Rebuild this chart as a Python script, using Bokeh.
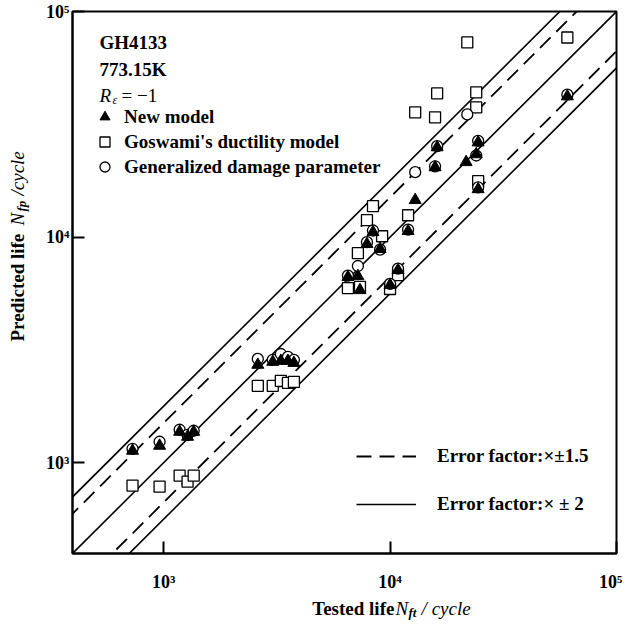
import math
from bokeh.plotting import figure
from bokeh.layouts import row, column
from bokeh.models import Label, Legend, LegendItem, FixedTicker
from bokeh.embed import file_html
from bokeh.resources import INLINE

# ---- data ----
tested_new = [729, 960, 1177, 1276, 1358, 2606, 3034, 3294, 3540, 3762,
              6516, 7211, 7365, 7907, 8407, 9036, 10000, 10843, 12012, 12912,
              15805, 16145, 21677, 24021, 24490, 24490, 60670]
pred_new = [1130, 1189, 1371, 1303, 1371, 2716, 2800, 2827, 2827, 2768,
            6653, 6714, 5821, 9314, 10520, 8853, 6139, 7145, 10637, 14593,
            20397, 25004, 21494, 23286, 26290, 16308, 42070]

tested_gos = [729, 960, 1177, 1276, 1358, 2606, 3034, 3294, 3540, 3762,
              6516, 7211, 7365, 7907, 8407, 9224, 10000, 10843, 12012, 12912,
              15805, 16145, 21928, 24021, 24021, 24490, 60670]
pred_gos = [791, 783, 876, 824, 876, 2193, 2193, 2307, 2258, 2281,
            5943, 8492, 6012, 11885, 13711, 10090, 5890, 6791, 12503, 35727,
            33963, 43337, 72946, 43830, 37573, 17706, 76700]

tested_gdp = [729, 960, 1177, 1276, 1358, 2606, 3034, 3294, 3540, 3762,
              6516, 7211, 7907, 8407, 9036, 10000, 10843, 12012, 12912,
              15805, 16145, 21928, 24021, 24490, 24490, 60670]
pred_gdp = [1153, 1239, 1400, 1330, 1386, 2884, 2857, 3034, 2944, 2857,
            6750, 7447, 9500, 10700, 8800, 6200, 7250, 10800, 19400,
            20600, 25300, 34994, 23000, 26700, 16600, 42800]

band_dashed = 1.5     # dashed band factor as drawn
band_solid = 1.78     # solid band factor as drawn
line_x = [100, 1000000]
ticks = [1000, 10000, 100000]
tick_labels = {1000: "10³", 10000: "10⁴", 100000: "10⁵"}

FONT = "Liberation Serif"
XMIN, XMAX = 396, 100000
YMIN, YMAX = 396, 100000

LW = 40          # width of the left title strip
MW = 582         # width of the main plot canvas
MH = 594         # height of the main plot canvas
BH = 27          # height of the bottom title strip

# ---------------- main plot ----------------
p = figure(x_axis_type="log", y_axis_type="log",
           x_range=(XMIN, XMAX), y_range=(YMIN, YMAX),
           width=MW, height=MH,
           min_border_left=32, min_border_right=MW - 32 - 544,
           min_border_top=11, min_border_bottom=MH - 11 - 543,
           output_backend="svg", toolbar_location=None)
p.grid.visible = False
p.outline_line_color = "black"
p.outline_line_width = 2
p.background_fill_color = "white"
p.border_fill_color = "white"
for ax in (p.xaxis[0], p.yaxis[0]):
    ax.ticker = FixedTicker(ticks=ticks)
    ax.major_label_overrides = tick_labels
    ax.axis_line_width = 2
    ax.major_tick_in = 12
    ax.major_tick_out = 0
    ax.major_tick_line_width = 2
    ax.minor_tick_line_color = None
    ax.major_label_text_font = FONT
    ax.major_label_text_font_size = "18px"
    ax.major_label_text_font_style = "bold"
    ax.major_label_text_color = "black"
p.xaxis[0].major_label_standoff = 18
p.yaxis[0].major_label_standoff = 3

# error band lines
solid = p.multi_line(xs=[line_x] * 3,
                     ys=[[v / band_solid for v in line_x], list(line_x),
                         [v * band_solid for v in line_x]],
                     line_color="black", line_width=1.6)
dashed = p.multi_line(xs=[line_x] * 2,
                      ys=[[v / band_dashed for v in line_x],
                          [v * band_dashed for v in line_x]],
                      line_color="black", line_width=1.8, line_dash="15 8")

sq = p.scatter(tested_gos, pred_gos, marker="square", size=11,
               line_color="black", fill_color="white", line_width=1.3)
ci = p.scatter(tested_gdp, pred_gdp, marker="circle", size=11,
               line_color="black", fill_color="white", line_width=1.3)
tr = p.scatter(tested_new, pred_new, marker="triangle", size=12,
               line_color="black", fill_color="black")


def make_label(text, x, y, size, style, angle=0.0, align="left", **kw):
    return Label(text=text, text_font=FONT, text_font_size=f"{size}px",
                 text_font_style=style, text_baseline="alphabetic",
                 text_align=align, angle=angle, text_color="black",
                 x=x, y=y, **kw)


def lab_main(text, px, py, size, style="bold"):
    # reference page pixel -> offset from the frame's bottom-left corner
    p.add_layout(make_label(text, XMIN, YMIN, size, style,
                            x_offset=px - 73, y_offset=555 - py))


lab_main("GH4133", 100, 44, 19)
lab_main("773.15K", 100, 71, 19)
lab_main("R", 100, 97, 19, "italic")
lab_main("ε", 113, 101, 12, "italic")
lab_main("= −1", 122, 97, 19, "normal")

leg1 = Legend(items=[LegendItem(label="New model", renderers=[tr]),
                     LegendItem(label="Goswami's ductility model", renderers=[sq]),
                     LegendItem(label="Generalized damage parameter", renderers=[ci])],
              location=(20, 374), spacing=0,
              glyph_width=25, glyph_height=25, label_height=25,
              label_standoff=7, padding=0,
              label_text_font=FONT, label_text_font_size="19px",
              label_text_font_style="bold", label_text_color="black",
              border_line_color=None, background_fill_alpha=0)
leg2 = Legend(items=[LegendItem(label="Error factor:×±1.5", renderers=[dashed]),
                     LegendItem(label="Error factor:× ± 2", renderers=[solid])],
              location=(284, 38), spacing=26,
              glyph_width=60, glyph_height=20, label_height=20,
              label_standoff=21, padding=0,
              label_text_font=FONT, label_text_font_size="19px",
              label_text_font_style="bold", label_text_color="black",
              border_line_color=None, background_fill_alpha=0)
p.add_layout(leg1)
p.add_layout(leg2)


def strip(w, h):
    f = figure(width=w, height=h, x_range=(0, w), y_range=(0, h),
               min_border=0, x_axis_location=None, y_axis_location=None,
               output_backend="svg", toolbar_location=None)
    f.grid.visible = False
    f.outline_line_color = None
    f.background_fill_color = "white"
    f.border_fill_color = "white"
    return f


# ---------------- left strip: y title ----------------
left = strip(LW, MH + BH)
rot = math.pi / 2


def lab_left(text, px, py, size, style):
    left.add_layout(make_label(text, px - 8, (1 + MH + BH) - py, size, style, angle=rot))


lab_left("Predicted life", 25, 342, 19, "bold")
lab_left("N", 25, 226, 19, "italic")
lab_left("fp", 29, 212, 13, "bold italic")
lab_left("/cycle", 25, 196, 19, "italic")

# ---------------- bottom strip: x title ----------------
bottom = strip(MW, BH)


def lab_bottom(text, px, py, size, style):
    bottom.add_layout(make_label(text, px - 55.5, 627 - py, size, style))


lab_bottom("Tested life", 312, 613.5, 19, "bold")
lab_bottom("N", 401, 613.5, 19, "italic")
lab_bottom("ft", 415, 617.5, 13, "bold italic")
lab_bottom("/ cycle", 429, 613.5, 19, "italic")

layout = row(left, column(p, bottom))

open("out.html", "w").write(file_html(layout, INLINE))
